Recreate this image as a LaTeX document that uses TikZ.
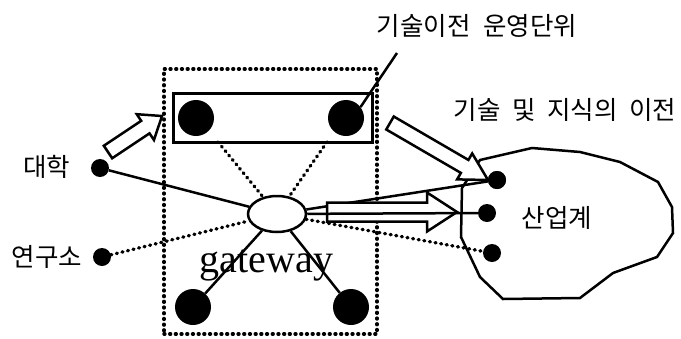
\documentclass[tikz,border=0pt]{standalone}
\usepackage{fontspec}
\newfontfamily\kr{Noto Sans CJK KR}
\newfontfamily\serifgw{Liberation Serif}
\usetikzlibrary{shapes.geometric,calc}
\tikzset{
  solidline/.style={line width=2.5pt},
  dotline/.style={line width=3.4pt, dash pattern=on 0.9pt off 4.8pt, line cap=round},
  bigdot/.style={circle, fill=black, minimum size=36pt, inner sep=0pt},
  smalldot/.style={circle, fill=black, minimum size=18pt, inner sep=0pt},
  krlabel/.style={font=\kr\fontsize{25.5}{27}\selectfont, inner sep=0pt},
  fatarrowstyle/.style={draw, fill=white, line width=2.5pt, line join=miter},
}
\newcommand\fatarrow[5]{%
  \coordinate (fa-b) at ($(#2)!#5!(#1)$);
  \draw[fatarrowstyle] ($(#1)!#3!90:(#2)$) -- ($(fa-b)!#3!90:(#2)$) -- ($(fa-b)!#4!90:(#2)$) -- (#2)
    -- ($(fa-b)!#4!-90:(#2)$) -- ($(fa-b)!#3!-90:(#2)$) -- ($(#1)!#3!-90:(#2)$) -- cycle;}
\begin{document}
\begin{tikzpicture}[x=1pt,y=-1pt]
\useasboundingbox (0,0) rectangle (681,338);
% industry blob
\draw[solidline, line join=miter] (480,160) -- (532,148) -- (580,152) -- (620,162) -- (658,182) -- (672,207)
  -- (673,233) -- (657,257) -- (613,273) -- (580,298) -- (503,299) -- (480,277) -- (461,237) -- (462,188) -- cycle;
% outer dotted box
\node[draw, dotline, minimum width=213pt, minimum height=265pt, inner sep=0pt] (frame) at (270.5,201.5) {};
% transfer unit box
\node[draw, line width=3pt, minimum width=199pt, minimum height=49pt, inner sep=0pt] (unit) at (272.5,117.5) {};
\node[bigdot] (u1) at (196,118) {};
\node[bigdot] (u2) at (346,118) {};
% gateway
\node[draw, ellipse, line width=2.5pt, minimum width=58pt, minimum height=36pt, inner sep=0pt, fill=white] (gw) at (277,214) {};
\node[font=\serifgw\fontsize{40}{40}\selectfont, anchor=base, inner sep=0pt] (gwl) at (266.5,272) {gateway};
\node[bigdot] (b1) at (193,307) {};
\node[bigdot] (b2) at (351,307) {};
% sources
\node[smalldot] (d1) at (100,168) {};
\node[smalldot] (d2) at (102,257) {};
\node[krlabel] (l1) at (47,167) {대학};
\node[krlabel] (l2) at (47,257) {연구소};
% industry dots
\node[smalldot] (i1) at (497,180) {};
\node[smalldot] (i2) at (487,213) {};
\node[smalldot] (i3) at (492,253) {};
\node[krlabel] (l3) at (557,218) {산업계};
% labels top
\node[krlabel] (t1) at (477,26) {기술이전\hspace{0.5em}운영단위};
\node[krlabel] (t2) at (565,110) {기술\hspace{0.45em}및\hspace{0.45em}지식의\hspace{0.45em}이전};
\coordinate (t1p) at (397,53);
\draw[solidline] (u2.37) -- (t1p);
% connectors
\coordinate (ua) at (218,142);
\coordinate (ub) at (327,142);
\draw[dotline] (ua) -- (gw);
\draw[dotline] (ub) -- (gw);
\draw[solidline] (d1) -- (gw);
\draw[dotline] (d2) -- (gw);
\draw[solidline] (gw) -- (b1);
\draw[solidline] (gw) -- (b2);
\draw[solidline] (gw) -- (i1);
\draw[dotline] (gw) -- (i3);
% fat arrows
\coordinate (a1s) at (108,152);
\coordinate (a1e) at (162,116);
\fatarrow{a1s}{a1e}{7.5pt}{15.5pt}{20pt}
\coordinate (a2s) at (390,123);
\coordinate (a2e) at (488,180);
\fatarrow{a2s}{a2e}{7.5pt}{15pt}{27pt}
\coordinate (a3s) at (327,212);
\coordinate (a3e) at (457,212);
\fatarrow{a3s}{a3e}{9.5pt}{19.5pt}{30pt}
\draw[solidline] (gw) -- (i2);
\node[smalldot] at (i1) {};
\end{tikzpicture}
\end{document}
